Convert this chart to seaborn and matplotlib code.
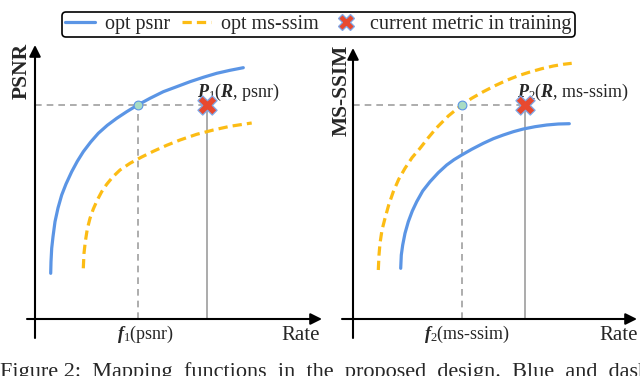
import matplotlib
matplotlib.use("Agg")
import matplotlib.pyplot as plt
from matplotlib.lines import Line2D
import seaborn as sns
import pandas as pd

# ---------------- data ----------------
# left panel: quality = PSNR
left_blue_rate = [15.7, 16.0, 16.7, 18.0, 20.0, 23.0, 26.7, 31.0, 36.7, 42.3, 48.3, 55.7, 63.3,
                  72.3, 81.7, 91.7, 102.7, 115.0, 128.3, 141.7, 155.0, 168.3, 181.7, 195.0, 208.3]
left_blue_psnr = [45.7, 57.3, 70.7, 82.3, 97.3, 111.0, 124.0, 135.0, 147.3, 157.7, 167.3, 177.0, 185.7,
                  193.7, 200.7, 207.3, 214.0, 220.7, 227.3, 232.3, 237.3, 241.7, 245.7, 248.7, 251.3]
left_orange_rate = [48.3, 49.0, 50.3, 52.3, 55.0, 58.3, 62.3, 66.7, 71.7, 77.7, 85.0, 95.0, 106.7,
                    118.3, 131.7, 145.0, 161.7, 178.3, 195.0, 216.7]
left_orange_psnr = [50.7, 65.7, 77.3, 90.0, 100.7, 110.0, 119.0, 127.3, 134.7, 142.0, 149.0, 155.7, 162.0,
                    167.7, 173.7, 179.0, 184.7, 189.0, 192.7, 196.0]
# right panel: quality = MS-SSIM
right_orange_rate = [25.3, 26.0, 27.0, 29.0, 32.0, 35.7, 40.3, 45.7, 52.0, 59.0, 67.0, 75.3, 83.7,
                     95.3, 108.7, 118.7, 130.3, 142.0, 153.7, 165.3, 177.0, 188.7, 200.3, 210.3, 218.7]
right_orange_msssim = [49.0, 64.0, 75.7, 89.0, 100.7, 114.0, 127.3, 139.7, 150.7, 161.3, 170.7, 181.3, 191.3,
                       203.0, 214.0, 220.7, 227.3, 233.3, 238.7, 243.3, 247.0, 250.3, 253.0, 254.7, 255.7]
right_blue_rate = [47.7, 48.3, 49.7, 52.0, 55.3, 59.3, 63.7, 69.7, 77.0, 85.3, 93.7, 101.0, 108.7,
                   118.7, 130.3, 140.3, 150.3, 160.3, 170.3, 182.0, 193.7, 205.3, 216.3]
right_blue_msssim = [50.7, 64.0, 74.0, 85.7, 97.3, 108.0, 117.3, 128.0, 137.3, 146.3, 154.0, 159.3, 164.0,
                     169.7, 175.7, 180.3, 184.0, 187.3, 190.0, 192.3, 194.0, 195.0, 195.3]
# mapped point f(.) and current training point P(R, .)
p1_f_rate, p1_rate, p1_level = 102.7, 172, 214
p2_f_rate, p2_rate, p2_level = 108.7, 172, 214

legend_labels = ["opt psnr", "opt ms-ssim", "current metric in training"]
caption = "Figure 2:  Mapping  functions  in  the  proposed  design.  Blue  and  dashed  lines"

# ---------------- style ----------------
sns.set_theme(style="white")
plt.rcParams["font.family"] = ["Liberation Serif", "DejaVu Serif"]
plt.rcParams["mathtext.fontset"] = "custom"
plt.rcParams["mathtext.rm"] = "Liberation Serif"
plt.rcParams["mathtext.it"] = "Liberation Serif:italic"
plt.rcParams["mathtext.bf"] = "Liberation Serif:bold"
plt.rcParams["mathtext.bfit"] = "Liberation Serif:italic:bold"

BLUE = "#5B95E5"
ORANGE = "#FCBC14"
RED = "#E8492F"
CROSS_EDGE = "#7FA8E8"
DOT = "#A8DCC4"
GUIDE = "#A0A0A0"
DASH = (0, (2.9, 1.6))

W, H = 640, 376
fig = plt.figure(figsize=(W / 100, H / 100), dpi=100)


def make_ax(px0, px1, py0, py1, ox, oy):
    ax = fig.add_axes([px0 / W, 1 - py1 / H, (px1 - px0) / W, (py1 - py0) / H])
    ax.set_xlim(px0 - ox, px1 - ox)
    ax.set_ylim(oy - py1, oy - py0)
    ax.axis("off")
    return ax


def draw_axes(ax, x_start, x_tip, y_start, y_tip):
    ap = dict(arrowstyle="-|>", lw=1.5, color="black", mutation_scale=17,
              shrinkA=0, shrinkB=0)
    ax.annotate("", xy=(x_tip, 0), xytext=(x_start, 0), arrowprops=ap, zorder=5)
    ax.annotate("", xy=(0, y_tip), xytext=(0, y_start), arrowprops=ap, zorder=5)


def draw_panel(ax, solid_rate, solid_q, dash_rate, dash_q, f_rate, p_rate, level):
    sns.lineplot(x=solid_rate, y=solid_q, ax=ax, color=BLUE, lw=2.3, sort=False,
                 estimator=None, zorder=3, solid_joinstyle="round")
    sns.lineplot(x=dash_rate, y=dash_q, ax=ax, color=ORANGE, lw=2.3, sort=False,
                 estimator=None, linestyle=DASH, zorder=3, dash_joinstyle="round")
    ax.plot([0, p_rate], [level, level], color=GUIDE, lw=1.2, linestyle=(0, (4, 3)), zorder=2)
    ax.plot([f_rate, f_rate], [0, level], color=GUIDE, lw=1.2, linestyle=(0, (4, 3)), zorder=2)
    ax.plot([p_rate, p_rate], [0, level], color="#ABABAB", lw=1.4, zorder=2)
    pts = pd.DataFrame({"r": [f_rate], "q": [level]})
    sns.scatterplot(data=pts, x="r", y="q", ax=ax, s=40, color=DOT, edgecolor=BLUE,
                    linewidth=0.8, zorder=6)
    cur = pd.DataFrame({"r": [p_rate], "q": [level]})
    sns.scatterplot(data=cur, x="r", y="q", ax=ax, marker="X", s=190, color=RED,
                    edgecolor=CROSS_EDGE, linewidth=0.9, zorder=7)


# left panel
axL = make_ax(0, 325, 30, 376, 35, 319)
draw_axes(axL, -8, 287, -19, 274)
draw_panel(axL, left_blue_rate, left_blue_psnr, left_orange_rate, left_orange_psnr,
           p1_f_rate, p1_rate, p1_level)
axL.text(-13, 276, "PSNR", rotation=90, ha="center", va="top", fontsize=15.5,
         fontweight="bold")
axL.text(285, -21, "Rate", ha="right", va="baseline", fontsize=15)
axL.text(111, -15, r"$\mathbfit{f}_1$(psnr)", ha="center", va="center", fontsize=13)
axL.text(162, 227, r"$\mathbfit{P}_1$($\mathbfit{R}$, psnr)", ha="left", va="center",
         fontsize=13)

# right panel
axR = make_ax(325, 640, 30, 376, 353, 319)
draw_axes(axR, -11, 284, -19, 271)
draw_panel(axR, right_blue_rate, right_blue_msssim, right_orange_rate, right_orange_msssim,
           p2_f_rate, p2_rate, p2_level)
axR.text(-11, 274, "MS-SSIM", rotation=90, ha="center", va="top", fontsize=15.5,
         fontweight="bold")
axR.text(285, -21, "Rate", ha="right", va="baseline", fontsize=15)
axR.text(114, -15, r"$\mathbfit{f}_2$(ms-ssim)", ha="center", va="center", fontsize=13)
axR.text(164, 227, r"$\mathbfit{P}_2$($\mathbfit{R}$, ms-ssim)", ha="left", va="center",
         fontsize=13)

# legend
handles = [
    Line2D([], [], color=BLUE, lw=2.3),
    Line2D([], [], color=ORANGE, lw=2.3, linestyle=DASH),
    Line2D([], [], color=RED, marker="X", markersize=11, markeredgecolor=CROSS_EDGE,
           markeredgewidth=0.9, linestyle="none"),
]
leg = fig.legend(handles, legend_labels, loc="upper center", ncol=3,
                 bbox_to_anchor=(318.5 / W, 1 - 1.5 / H), fontsize=14.5, frameon=True,
                 fancybox=True, edgecolor="black", framealpha=1, handlelength=1.45,
                 handletextpad=0.5, columnspacing=0.6, borderpad=0.15)
leg.get_frame().set_linewidth(1.2)

# caption (cut by the bottom edge as in the reference)
fig.text(0, 1 - 377 / H, caption, ha="left", va="baseline", fontsize=16)

fig.savefig("out.png", dpi=100)
